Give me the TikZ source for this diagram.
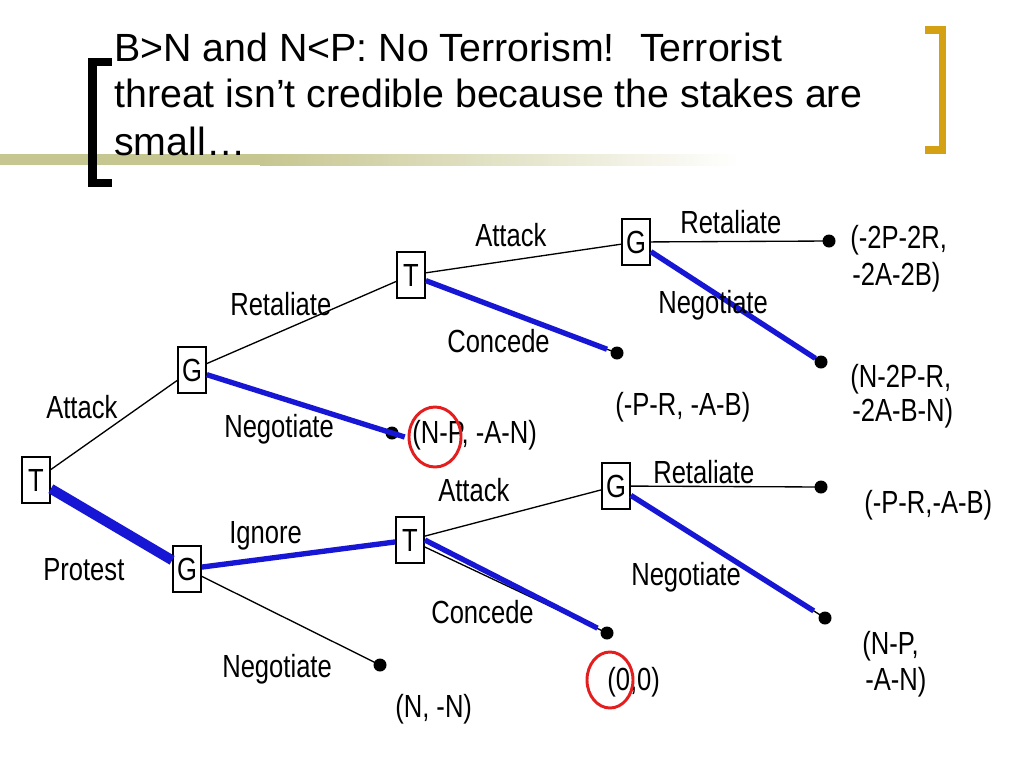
\documentclass[tikz,border=0pt]{standalone}
\usepackage{fontspec}
\setmainfont{Liberation Sans}
\newfontfamily\treefont[FakeStretch=0.8]{Liberation Sans}
\definecolor{barolive}{RGB}{198,198,144}
\definecolor{bracketgold}{RGB}{212,160,20}
\definecolor{bestblue}{RGB}{22,22,212}
\definecolor{ringred}{RGB}{228,30,30}
\begin{document}
\begin{tikzpicture}[x=0.75pt,y=-0.75pt,
  player/.style={draw,line width=1.3pt,inner sep=0pt,minimum width=21pt,minimum height=34.5pt,font=\treefont\fontsize{24}{26}\selectfont},
  move/.style={line width=1pt},
  best/.style={line width=4pt,draw=bestblue},
  word/.style={anchor=base west,inner sep=0pt,font=\treefont\fontsize{24}{26}\selectfont},
  head/.style={anchor=base west,inner sep=0pt,font=\fontsize{29.5}{34.5}\selectfont}]
\path[fill=white,use as bounding box] (0,0) rectangle (1024,768);
% title bar and brackets
\fill[barolive] (0,154) rectangle (260,165);
\shade[left color=barolive,right color=white] (260,154) rectangle (740,165);
\fill (88,58) rectangle (97,187);
\fill (88,58) rectangle (112,66);
\fill (88,179) rectangle (112,187);
\fill[bracketgold] (939,26) rectangle (946,154);
\fill[bracketgold] (925,26) rectangle (946,34);
\fill[bracketgold] (925,146) rectangle (946,154);
\node[head] (h1) at (114,61) {B>N and N<P: No Terrorism!~ Terrorist};
\node[head] (h2) at (114,107) {threat isn’t credible because the stakes are};
\node[head] (h3) at (114,155) {small…};
% decision nodes
\node[player] (t0) at (36,480) {T};
\node[player] (g1) at (192,370) {G};
\node[player] (g2) at (187,569) {G};
\node[player] (t1) at (411,275) {T};
\node[player] (t2) at (410,540) {T};
\node[player] (g3) at (636,242) {G};
\node[player] (g4) at (616,486) {G};
% end points
\fill (829,241) circle (6.5) coordinate (z1);
\fill (821,362) circle (6.5) coordinate (z2);
\fill (617,353) circle (6.5) coordinate (z3);
\fill (392,433) circle (6.5) coordinate (z4);
\fill (821,487) circle (6.5) coordinate (z5);
\fill (825,618) circle (6.5) coordinate (z6);
\fill (607,633) circle (6.5) coordinate (z7);
\fill (380,665) circle (6.5) coordinate (z8);
% moves
\draw[move] (t0) -- (g1);
\draw[move] (t0) -- (g2);
\draw[move] (g1) -- (t1);
\draw[move] (g1) -- (z4);
\draw[move] (g2) -- (t2);
\draw[move] (g2) -- (z8);
\draw[move] (t1) -- (g3);
\draw[move] (t1) -- (z3);
\draw[move] (g3) -- (z1);
\draw[move] (g3) -- (z2);
\draw[move] (t2) -- (g4);
\draw[move] (t2) -- (z7);
\draw[move] (g4) -- (z5);
\draw[move] (g4) -- (z6);
% equilibrium path
\draw[best,line width=7.5pt] (t0) -- (g2);
\draw[best,shorten >=-10pt] (g1) -- (z4);
\draw[best] (g2) -- (t2);
\draw[best,shorten >=8pt] (t1) -- (z3);
\draw[best,shorten >=5pt] (g3) -- (z2);
\draw[best,shorten >=8pt] (t2.east) -- (z7);
\draw[best,shorten >=10pt] (g4) -- (z6);
% move labels
\node[word] (m1) at (46,418) {Attack};
\node[word] (m2) at (43,580) {Protest};
\node[word] (m3) at (230,315) {Retaliate};
\node[word] (m4) at (224,437) {Negotiate};
\node[word] (m5) at (229,543) {Ignore};
\node[word] (m6) at (222,677) {Negotiate};
\node[word] (m7) at (475,246) {Attack};
\node[word] (m8) at (447,352) {Concede};
\node[word] (m9) at (680,233) {Retaliate};
\node[word] (m10) at (658,313) {Negotiate};
\node[word] (m11) at (438,501) {Attack};
\node[word] (m12) at (431,623) {Concede};
\node[word] (m13) at (653,483) {Retaliate};
\node[word] (m14) at (631,585) {Negotiate};
% payoffs
\node[word] (p1) at (850,248) {(-2P-2R,};
\node[word] (p1b) at (852,285) {-2A-2B)};
\node[word] (p2) at (850,387) {(N-2P-R,};
\node[word] (p2b) at (852,421) {-2A-B-N)};
\node[word] (p3) at (615,415) {(-P-R, -A-B)};
\node[word] (p4) at (412,443) {(N-P, -A-N)};
\node[word] (p5) at (864,513) {(-P-R,-A-B)};
\node[word] (p6) at (862,654) {(N-P,};
\node[word] (p6b) at (865,690) {-A-N)};
\node[word] (p7) at (607,690) {(0,0)};
\node[word] (p8) at (395,717) {(N, -N)};
\draw[ringred,line width=2.2pt] (435,437) ellipse (26 and 30);
\draw[ringred,line width=2.2pt] (610,680) ellipse (23 and 28);
\end{tikzpicture}
\end{document}
